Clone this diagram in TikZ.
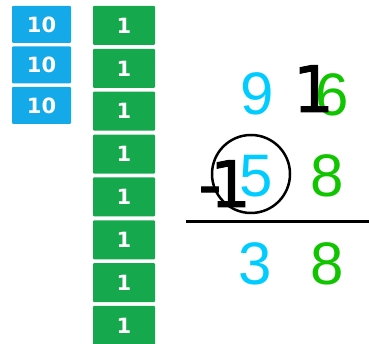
\documentclass[tikz,border=0pt]{standalone}
\usepackage{fontspec}
\setmainfont{Liberation Sans}
\newfontfamily\dvb{DejaVu Sans}
\newfontfamily\dvk[FakeBold=1.5]{DejaVu Sans}
\begin{document}
\begin{tikzpicture}[x=1pt,y=1pt,
  tenbox/.style={fill=tenblue,text=white,minimum width=59pt,minimum height=37pt,inner sep=0pt,rounded corners=1pt,font=\dvb\bfseries\fontsize{21}{21}\selectfont},
  onebox/.style={fill=onegreen,text=white,minimum width=62pt,minimum height=39pt,inner sep=0pt,rounded corners=1pt,font=\dvb\bfseries\fontsize{21}{21}\selectfont},
  bigc/.style={text=digcyan,anchor=base,inner sep=0pt,font=\fontsize{60}{60}\selectfont},
  bigg/.style={text=diggreen,anchor=base,inner sep=0pt,font=\fontsize{60}{60}\selectfont},
  bigk/.style={text=black,anchor=base,inner sep=0pt,font=\dvk\fontsize{64}{64}\selectfont}]
\definecolor{tenblue}{HTML}{14A9E8}
\definecolor{onegreen}{HTML}{15A84C}
\definecolor{digcyan}{HTML}{00CCFF}
\definecolor{diggreen}{HTML}{11C400}
\useasboundingbox (0,0) rectangle (369,344);
% tens
\node[tenbox] (t1) at (41.5,319.5) {10};
\node[tenbox] (t2) at (41.5,279) {10};
\node[tenbox] (t3) at (41.5,238.5) {10};
% ones
\foreach \i/\y in {1/25.5,2/68.4,3/111.2,4/154.1,5/196.9,6/239.8,7/282.7,8/325.5}{
  \node[onebox] (o\i) at (124,344-\y) {1};
}
% top row
\node[bigc] (n9) at (257.5,229) {9};
\node[bigg] (n6) at (332.5,228) {6};
\node[bigk] (c1) at (313.5,232) {1};
% middle row
\node[bigc] (n5) at (256,147) {5};
\node[bigg] (n8a) at (327.5,147) {8};
\node[bigk] (m1) at (230.5,137) {1};
\node[bigk] (mm) at (210,137) {-};
\draw[line width=2.5pt] (251,170) circle[radius=39];
% rule
\coordinate (ra) at (186,122.5);
\coordinate (rb) at (369,122.5);
\draw[line width=3pt] (ra) -- (rb);
% result
\node[bigc] (n3) at (255,59) {3};
\node[bigg] (n8b) at (327,59) {8};
\end{tikzpicture}
\end{document}
